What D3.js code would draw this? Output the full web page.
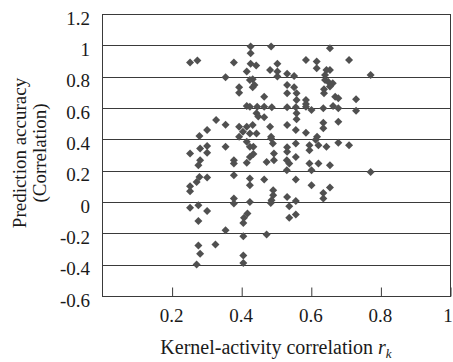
<!DOCTYPE html>
<html>
<head>
<meta charset="utf-8">
<script src="https://cdn.jsdelivr.net/npm/d3@7/dist/d3.min.js"></script>
<style>
  html, body { margin: 0; padding: 0; background: #fff; }
  svg { display: block; }
  text { font-family: "Liberation Serif", "Times New Roman", serif; fill: #1a1a1a; }
</style>
</head>
<body>
<svg id="chart" width="453" height="362"></svg>
<script>
// ---- data ----
const xTickValues = [0.2, 0.4, 0.6, 0.8, 1];
const xTickLabels = ["0.2", "0.4", "0.6", "0.8", "1"];
const yTickValues = [-0.6, -0.4, -0.2, 0, 0.2, 0.4, 0.6, 0.8, 1, 1.2];
const yTickLabels = ["-0.6", "-0.4", "-0.2", "0", "0.2", "0.4", "0.6", "0.8", "1", "1.2"];

const kernelCorr = [
  0.253, 0.274, 0.379, 0.427, 0.427, 0.427, 0.443, 0.483, 0.416, 0.355,
  0.433, 0.438, 0.433, 0.394, 0.394, 0.466, 0.416, 0.425, 0.446, 0.466,
  0.444, 0.466, 0.483, 0.328, 0.355, 0.302, 0.280, 0.394, 0.416, 0.433,
  0.405, 0.425, 0.444, 0.394, 0.486, 0.655, 0.586, 0.617, 0.617, 0.710,
  0.504, 0.504, 0.504, 0.532, 0.552, 0.645, 0.655, 0.641, 0.641, 0.650,
  0.663, 0.655, 0.638, 0.638, 0.772, 0.425, 0.532, 0.552, 0.532, 0.559,
  0.559, 0.586, 0.586, 0.670, 0.679, 0.730, 0.488, 0.532, 0.557, 0.586,
  0.602, 0.636, 0.664, 0.679, 0.730, 0.559, 0.559, 0.679, 0.532, 0.636,
  0.636, 0.557, 0.586, 0.618, 0.486, 0.282, 0.302, 0.302, 0.253, 0.355,
  0.416, 0.435, 0.282, 0.277, 0.379, 0.379, 0.416, 0.425, 0.435, 0.473,
  0.280, 0.302, 0.272, 0.253, 0.253, 0.379, 0.425, 0.425, 0.466, 0.379,
  0.379, 0.253, 0.277, 0.302, 0.425, 0.418, 0.408, 0.406, 0.277, 0.355,
  0.406, 0.473, 0.277, 0.282, 0.326, 0.272, 0.406, 0.406, 0.486, 0.491,
  0.532, 0.532, 0.557, 0.557, 0.596, 0.596, 0.622, 0.645, 0.679, 0.710,
  0.425, 0.494, 0.494, 0.531, 0.538, 0.531, 0.596, 0.602, 0.622, 0.655,
  0.772, 0.557, 0.602, 0.655, 0.636, 0.636, 0.492, 0.492, 0.487, 0.485,
  0.532, 0.557, 0.538, 0.557, 0.538, 0.614, 0.449
];
const predictionAcc = [
  0.890, 0.903, 0.890, 0.993, 0.950, 0.882, 0.871, 0.843, 0.833, 0.797,
  0.784, 0.747, 0.733, 0.733, 0.698, 0.672, 0.613, 0.608, 0.608, 0.608,
  0.566, 0.541, 0.480, 0.523, 0.493, 0.459, 0.421, 0.480, 0.480, 0.491,
  0.448, 0.438, 0.438, 0.416, 0.993, 0.982, 0.907, 0.897, 0.854, 0.907,
  0.882, 0.833, 0.801, 0.818, 0.805, 0.843, 0.843, 0.811, 0.779, 0.768,
  0.758, 0.737, 0.720, 0.694, 0.811, 0.779, 0.747, 0.733, 0.694, 0.694,
  0.651, 0.651, 0.626, 0.672, 0.662, 0.656, 0.604, 0.604, 0.604, 0.608,
  0.587, 0.598, 0.613, 0.598, 0.583, 0.566, 0.528, 0.512, 0.491, 0.506,
  0.470, 0.459, 0.442, 0.416, 0.416, 0.342, 0.357, 0.314, 0.310, 0.352,
  0.384, 0.352, 0.267, 0.235, 0.267, 0.246, 0.250, 0.288, 0.306, 0.256,
  0.160, 0.156, 0.128, 0.101, 0.069, 0.171, 0.150, 0.107, 0.144, 0.022,
  -0.010, -0.036, -0.021, -0.057, 0.000, -0.074, -0.100, -0.134, -0.121, -0.181,
  -0.219, -0.207, -0.277, -0.330, -0.272, -0.399, -0.341, -0.390, 0.406, 0.374,
  0.349, 0.320, 0.374, 0.288, 0.363, 0.331, 0.363, 0.352, 0.378, 0.363,
  0.352, 0.310, 0.267, 0.267, 0.246, 0.203, 0.246, 0.203, 0.246, 0.235,
  0.192, 0.144, 0.107, 0.092, 0.058, 0.022, 0.075, 0.043, 0.011, -0.006,
  0.032, 0.007, -0.027, -0.079, -0.100, 0.398, 0.545
];

// ---- layout ----
const svg = d3.select("#chart");
const plot = { left: 102, right: 450, top: 14, bottom: 296 };

const x = d3.scaleLinear().domain([0, 1]).range([plot.left, plot.right]);
const y = d3.scaleLinear().domain([-0.6, 1.2]).range([plot.bottom, plot.top]);
const crisp = v => Math.round(v) + 0.5;
const lineColor = "#3a3a3a";

// horizontal gridlines
svg.append("g").selectAll("line").data(yTickValues).join("line")
  .attr("x1", plot.left).attr("x2", plot.right)
  .attr("y1", d => crisp(y(d))).attr("y2", d => crisp(y(d)))
  .attr("stroke", lineColor).attr("stroke-width", 1);

// frame
svg.append("rect")
  .attr("x", crisp(plot.left)).attr("y", crisp(plot.top))
  .attr("width", Math.round(plot.right) - Math.round(plot.left))
  .attr("height", Math.round(plot.bottom) - Math.round(plot.top))
  .attr("fill", "none").attr("stroke", lineColor).attr("stroke-width", 1);

// x axis (ticks pointing inward)
const xAxis = d3.axisTop(x).tickValues(xTickValues).tickSize(9).tickFormat("");
const gx = svg.append("g").attr("transform", `translate(0,${crisp(plot.bottom)})`).call(xAxis);
gx.select(".domain").remove();
gx.selectAll(".tick line").attr("stroke", lineColor).attr("transform", "translate(0.5,0)");

svg.append("g").selectAll("text").data(xTickValues).join("text")
  .attr("x", d => Math.min(x(d), 448)).attr("y", 322)
  .attr("text-anchor", "middle").attr("font-size", 19)
  .text((d, i) => xTickLabels[i]);

// y axis labels
svg.append("g").selectAll("text").data(yTickValues).join("text")
  .attr("x", 90).attr("y", d => y(d) + 10.5)
  .attr("text-anchor", "end").attr("font-size", 19)
  .text((d, i) => yTickLabels[i]);

// points (diamonds)
const pts = kernelCorr.map((v, i) => [v, predictionAcc[i]]);
const s = 4;
svg.append("g").selectAll("path").data(pts).join("path")
  .attr("d", `M0,${-s}L${s},0L0,${s}L${-s},0Z`)
  .attr("transform", d => `translate(${x(d[0])},${y(d[1])})`)
  .attr("fill", "#505050");

// axis titles
const xt = svg.append("text")
  .attr("x", (plot.left + plot.right) / 2).attr("y", 354)
  .attr("text-anchor", "middle").attr("font-size", 20);
xt.append("tspan").text("Kernel-activity correlation ");
xt.append("tspan").attr("font-style", "italic").text("r");
xt.append("tspan").attr("font-style", "italic").attr("font-size", 13).attr("dy", 4).text("k");

const yt = svg.append("text")
  .attr("transform", "translate(0,153) rotate(-90)")
  .attr("text-anchor", "middle").attr("font-size", 19);
yt.append("tspan").attr("x", 0).attr("y", 26).text("Prediction accuracy");
yt.append("tspan").attr("x", 0).attr("y", 46).text("(Correlation)");
</script>
</body>
</html>
